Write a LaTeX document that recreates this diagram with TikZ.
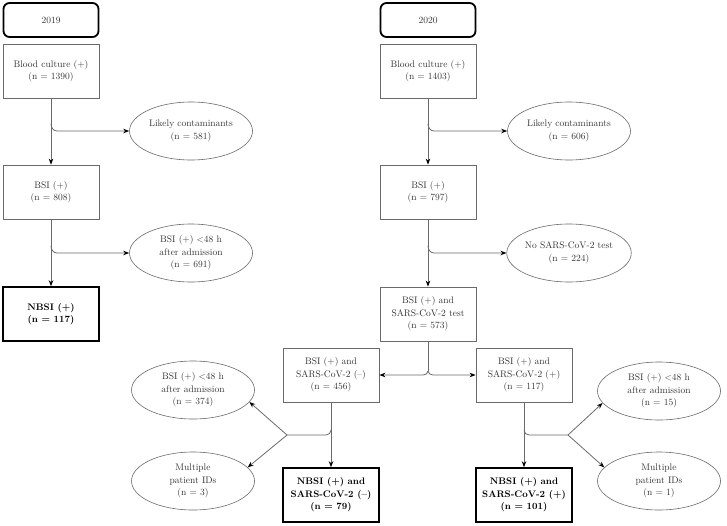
\documentclass[tikz,border=0pt]{standalone}
\usetikzlibrary{arrows.meta,calc,shapes.geometric}
\definecolor{txt}{HTML}{333333}
\definecolor{ln}{HTML}{6A6A6A}
\begin{document}
\begin{tikzpicture}[x=1pt,y=-1pt,
  font=\fontsize{9.5}{12.5}\selectfont,
  box/.style={draw=ln,line width=0.8pt,minimum width=96pt,minimum height=54pt,inner sep=0pt,align=center,text=txt},
  finalbox/.style={draw=black,line width=1.6pt,minimum width=96pt,minimum height=54pt,inner sep=0pt,align=center,text=black,font=\fontsize{9.5}{12.5}\selectfont\bfseries},
  yearbox/.style={draw=black,line width=1.8pt,rounded corners=6pt,minimum width=95pt,minimum height=34pt,inner sep=0pt,text=txt},
  oval/.style={ellipse,draw=ln,line width=0.6pt,minimum width=123pt,minimum height=58pt,inner sep=0pt,align=center,text=txt},
  arr/.style={draw=ln,line width=0.8pt,-{Stealth[length=6pt,width=4.5pt,color=black]}},
  plain/.style={draw=ln,line width=0.8pt}]
\useasboundingbox (0,0) rectangle (727,525);
% year headers
\node[yearbox] (y1) at (51,20) {2019};
\node[yearbox] (y2) at (428,20) {2020};
% 2019 column
\node[box] (bc1) at (51,71) {Blood culture (+)\\(n = 1390)};
\node[oval] (lc1) at (191,131) {Likely contaminants\\(n = 581)};
\node[box] (bsi1) at (51,192) {BSI (+)\\(n = 808)};
\node[oval] (ad1) at (191,253) {BSI (+) $<$48 h\\after admission\\(n = 691)};
\node[finalbox] (nb1) at (51,314) {NBSI (+)\\(n = 117)};
% 2020 column
\node[box] (bc2) at (428,71) {Blood culture (+)\\(n = 1403)};
\node[oval] (lc2) at (569,131) {Likely contaminants\\(n = 606)};
\node[box] (bsi2) at (428,192) {BSI (+)\\(n = 797)};
\node[oval] (nt2) at (569,253) {No SARS-CoV-2 test\\(n = 224)};
\node[box] (ts2) at (428,314) {BSI (+) and\\SARS-CoV-2 test\\(n = 573)};
\node[box] (neg) at (331,375) {BSI (+) and\\SARS-CoV-2 ({\textendash})\\(n = 456)};
\node[box] (pos) at (524,375) {BSI (+) and\\SARS-CoV-2 (+)\\(n = 117)};
\node[finalbox] (nneg) at (331,495) {NBSI (+) and\\SARS-CoV-2 ({\textendash})\\(n = 79)};
\node[finalbox] (npos) at (524,495) {NBSI (+) and\\SARS-CoV-2 (+)\\(n = 101)};
\node[oval] (e1) at (193,390) {BSI (+) $<$48 h\\after admission\\(n = 374)};
\node[oval] (e2) at (193,481) {Multiple\\patient IDs\\(n = 3)};
\node[oval] (e3) at (659,391) {BSI (+) $<$48 h\\after admission\\(n = 15)};
\node[oval] (e4) at (659,481) {Multiple\\patient IDs\\(n = 1)};
% junction coordinates
\coordinate (j1) at (bc1.south |- lc1.west);
\coordinate (j2) at (bsi1.south |- ad1.west);
\coordinate (j3) at (bc2.south |- lc2.west);
\coordinate (j4) at (bsi2.south |- nt2.west);
\coordinate (s) at (ts2.south |- neg.east);
\coordinate (k1) at (331,435);
\coordinate (f1) at (287,435);
\coordinate (k2) at (524,435);
\coordinate (f2) at (568,435);
% main vertical arrows
\draw[arr] (bc1) -- (bsi1);
\draw[arr] (bsi1) -- (nb1);
\draw[arr] (bc2) -- (bsi2);
\draw[arr] (bsi2) -- (ts2);
\draw[arr] (neg) -- (nneg);
\draw[arr] (pos) -- (npos);
% side branches
\foreach \j/\e in {j1/lc1,j2/ad1,j3/lc2,j4/nt2}
  \draw[arr] ($(\j)+(0,-7)$) to[out=-90,in=180] ($(\j)+(6,0)$) -- (\e.west);
% split after test
\draw[plain] (ts2.south) -- ($(s)+(0,-4)$);
\draw[arr] ($(s)+(0,-4)$) to[out=-90,in=0] ($(s)+(-5,0)$) -- (neg.east);
\draw[arr] ($(s)+(0,-4)$) to[out=-90,in=180] ($(s)+(5,0)$) -- (pos.west);
% exclusions bottom
\draw[plain] ($(k1)+(0,-5)$) to[out=-90,in=0] ($(k1)+(-5,0)$) -- (f1);
\draw[arr] (f1) -- (e1.-12);
\draw[arr] (f1) -- (e2.14);
\draw[plain] ($(k2)+(0,-5)$) to[out=-90,in=180] ($(k2)+(5,0)$) -- (f2);
\draw[arr] (f2) -- (e3.192);
\draw[arr] (f2) -- (e4.166);
\end{tikzpicture}
\end{document}
